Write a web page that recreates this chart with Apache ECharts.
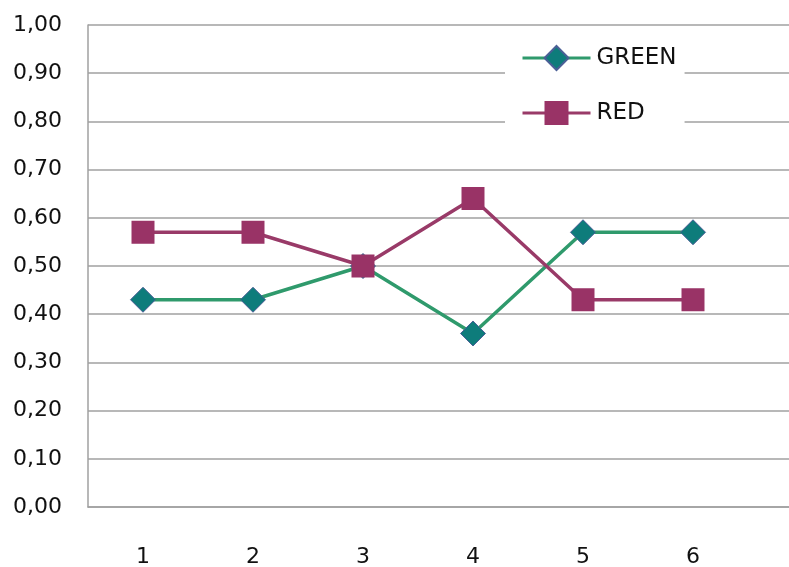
<!DOCTYPE html>
<html><head><meta charset="utf-8">
<script src="https://cdn.jsdelivr.net/npm/echarts@6/dist/echarts.min.js"></script>
<style>html,body{margin:0;padding:0;background:#fff}#c{width:789px;height:567px}</style>
</head><body><div id="c"></div>
<script>
var categories = ['1', '2', '3', '4', '5', '6'];
var greenValues = [0.43, 0.43, 0.50, 0.36, 0.57, 0.57];
var redValues = [0.57, 0.57, 0.50, 0.64, 0.43, 0.43];
var seriesNames = ['GREEN', 'RED'];

var chart = echarts.init(document.getElementById('c'));
var font = 'DejaVu Sans';
var gridColor = '#a0a0a0';
chart.setOption({
  animation: false,
  backgroundColor: '#fff',
  grid: { left: 88, top: 25, bottom: 60, width: 770, containLabel: false, outerBoundsMode: 'none' },
  legend: {
    orient: 'vertical',
    left: 505, top: 35,
    padding: [10, 8, 10, 16],
    backgroundColor: '#fff',
    itemWidth: 68, itemHeight: 30, itemGap: 30,
    lineStyle: { width: 3 },
    textStyle: { fontFamily: font, fontSize: 23, color: '#111', padding: [0, 0, 0, 1] },
    data: seriesNames
  },
  xAxis: {
    type: 'category',
    data: categories.concat(['']),
    boundaryGap: true,
    axisLine: { show: true, lineStyle: { color: gridColor, width: 1.5 } },
    axisTick: { show: false },
    splitLine: { show: false },
    minorTick: { show: false },
    axisLabel: { fontFamily: font, fontSize: 22, color: '#111', margin: 39 }
  },
  yAxis: {
    type: 'value', min: 0, max: 1, interval: 0.1,
    axisLine: { show: true, lineStyle: { color: gridColor, width: 1.5 } },
    axisTick: { show: false },
    splitLine: { lineStyle: { color: gridColor, width: 1.5 } },
    axisLabel: {
      fontFamily: font, fontSize: 22, color: '#111', margin: 26,
      formatter: function (v) { return v.toFixed(2).replace('.', ','); }
    }
  },
  series: [
    {
      name: seriesNames[0], type: 'line', data: greenValues,
      symbol: 'diamond', symbolSize: 25,
      lineStyle: { color: '#2f9a6c', width: 3.5 },
      itemStyle: { color: '#0e7c7b', borderColor: '#4a5f96', borderWidth: 1 }
    },
    {
      name: seriesNames[1], type: 'line', data: redValues,
      symbol: 'rect', symbolSize: 23,
      lineStyle: { color: '#993a68', width: 3.5 },
      itemStyle: { color: '#993366' }
    }
  ]
});
</script></body></html>
